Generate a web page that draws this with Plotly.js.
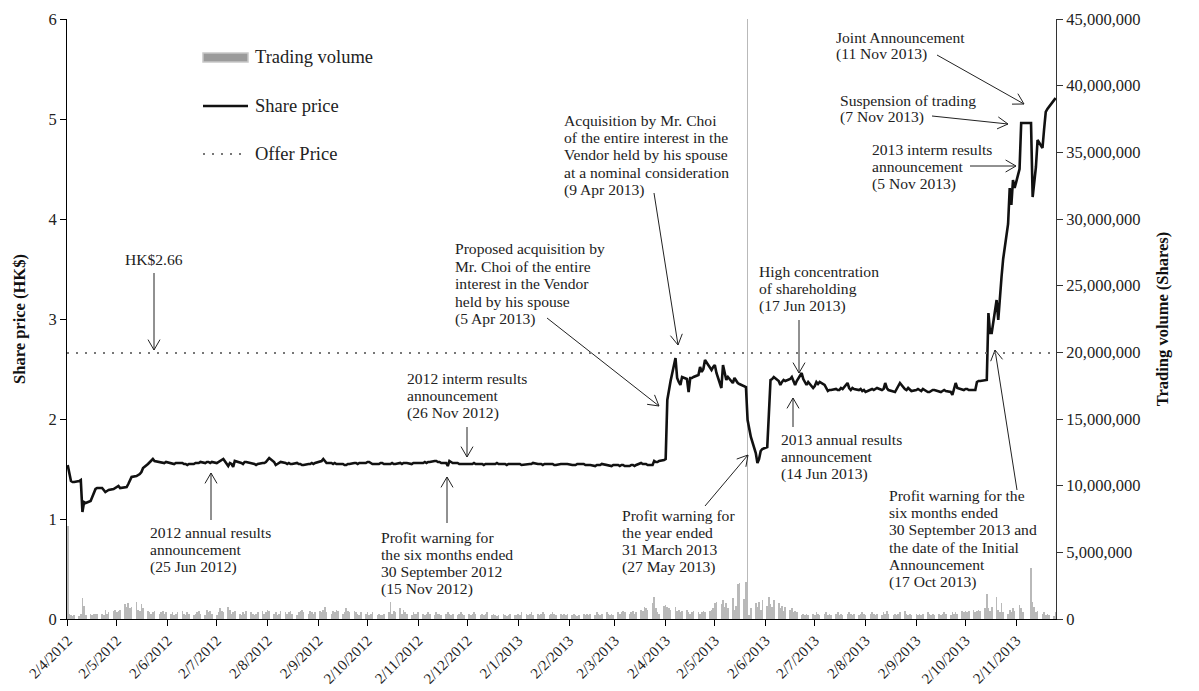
<!DOCTYPE html>
<html><head><meta charset="utf-8">
<script src="https://cdn.plot.ly/plotly-3.0.1.min.js"></script>
<style>html,body{margin:0;padding:0;background:#fff}#chart{width:1199px;height:691px}</style>
</head><body><div id="chart"></div>
<script>
// ---------------- DATA ----------------
// first trading day of the series; one value per weekday from here on
const startDate = '2012-04-02';

// Closing share price (HK$), one per trading day, grouped by month
const sharePrice = [
  // Apr 2012
  1.54,1.45,1.38,1.37,1.37,1.38,1.39,1.07,1.17,1.16,1.18,1.22,1.27,1.30,1.31,1.31,1.29,1.27,1.28,1.29,1.30,
  // May 2012
  1.31,1.32,1.33,1.31,1.32,1.32,1.35,1.39,1.42,1.43,1.44,1.45,1.47,1.51,1.55,1.57,1.59,1.60,1.58,1.57,1.57,1.56,1.56,
  // Jun 2012
  1.57,1.56,1.56,1.55,1.56,1.56,1.56,1.55,1.55,1.54,1.55,1.55,1.56,1.56,1.56,1.57,1.56,1.57,1.57,1.56,1.57,
  // Jul 2012
  1.56,1.57,1.58,1.59,1.60,1.53,1.56,1.55,1.52,1.58,1.57,1.56,1.55,1.57,1.57,1.56,1.55,1.55,1.54,1.55,1.56,1.56,
  // Aug 2012
  1.57,1.59,1.61,1.57,1.54,1.55,1.56,1.57,1.56,1.55,1.56,1.55,1.55,1.56,1.55,1.55,1.54,1.54,1.55,1.55,1.56,1.55,1.56,
  // Sep 2012
  1.57,1.58,1.60,1.58,1.56,1.56,1.55,1.56,1.55,1.55,1.55,1.54,1.54,1.55,1.55,1.56,1.56,1.55,1.56,1.56,
  // Oct 2012
  1.56,1.57,1.57,1.56,1.55,1.55,1.55,1.56,1.56,1.55,1.55,1.55,1.56,1.55,1.55,1.56,1.55,1.56,1.56,1.56,1.55,1.56,1.56,
  // Nov 2012
  1.56,1.56,1.56,1.57,1.56,1.57,1.57,1.58,1.58,1.57,1.57,1.56,1.56,1.53,1.58,1.57,1.56,1.56,1.55,1.55,1.55,1.55,
  // Dec 2012
  1.55,1.55,1.55,1.56,1.55,1.55,1.55,1.54,1.55,1.55,1.55,1.55,1.55,1.56,1.55,1.55,1.55,1.54,1.55,1.55,1.55,
  // Jan 2013
  1.55,1.55,1.55,1.54,1.55,1.55,1.55,1.55,1.56,1.55,1.55,1.55,1.54,1.55,1.55,1.55,1.55,1.54,1.54,1.55,1.55,1.55,1.55,
  // Feb 2013
  1.55,1.54,1.54,1.54,1.55,1.55,1.55,1.54,1.54,1.54,1.54,1.53,1.54,1.54,1.54,1.55,1.54,1.54,1.54,1.53,
  // Mar 2013
  1.54,1.54,1.53,1.54,1.54,1.53,1.53,1.54,1.54,1.53,1.54,1.56,1.55,1.55,1.55,1.54,1.54,1.58,1.57,1.57,1.58,
  // Apr 2013
  1.59,1.60,2.19,2.30,2.38,2.61,2.41,2.37,2.34,2.42,2.40,2.27,2.41,2.41,2.42,2.44,2.52,2.47,2.50,2.59,2.51,2.49,
  // May 2013
  2.52,2.54,2.46,2.31,2.54,2.45,2.39,2.42,2.36,2.41,2.38,2.36,2.35,2.33,2.32,1.99,1.88,1.82,1.66,1.56,1.60,1.68,1.70,
  // Jun 2013
  1.72,2.05,2.39,2.40,2.42,2.38,2.34,2.37,2.39,2.38,2.40,2.42,2.37,2.34,2.38,2.46,2.40,2.37,2.34,2.37,
  // Jul 2013
  2.31,2.33,2.37,2.35,2.37,2.34,2.31,2.28,2.29,2.29,2.30,2.29,2.29,2.31,2.30,2.36,2.31,2.29,2.31,2.30,2.29,2.30,2.28,
  // Aug 2013
  2.29,2.27,2.29,2.30,2.29,2.30,2.31,2.29,2.30,2.36,2.31,2.29,2.28,2.27,2.30,2.33,2.36,2.30,2.29,2.31,2.29,2.28,
  // Sep 2013
  2.29,2.30,2.29,2.28,2.30,2.27,2.27,2.28,2.29,2.29,2.28,2.27,2.28,2.29,2.28,2.27,2.24,2.30,2.36,2.31,2.29,
  // Oct 2013
  2.29,2.30,2.30,2.29,2.29,2.29,2.37,2.38,2.38,2.39,2.39,3.06,2.86,2.86,3.19,2.99,3.25,3.42,3.60,3.95,4.31,4.14,4.39,
  // Nov 2013
  4.31,4.50,4.96,4.96,4.96,4.96,4.96,4.22,4.40,4.52,4.79,4.71,4.90,5.07,5.10,5.12,5.19,5.21
];

// Daily trading volume, in millions of shares, same trading days
const volumeMillions = [
  // Apr 2012
  7.0,0.4,0.3,0.2,0.3,0.2,0.4,1.6,1.0,0.3,0.35,0.3,0.4,0.35,0.4,0.4,0.3,0.7,0.4,0.5,0.6,
  // May 2012
  0.7,0.5,0.6,0.7,1.1,0.9,1.2,0.8,0.9,1.3,0.7,0.6,1.1,0.8,0.6,0.5,0.4,0.5,0.6,0.4,0.5,0.6,0.4,
  // Jun 2012
  0.5,0.4,0.5,0.3,0.4,0.5,0.6,0.4,0.3,0.5,0.4,0.3,0.4,0.5,0.6,0.4,0.3,0.7,0.5,0.6,0.4,
  // Jul 2012
  0.3,0.5,0.8,0.6,0.5,0.9,0.7,0.4,0.5,0.6,0.4,0.3,0.5,0.4,0.6,0.5,0.4,0.3,0.4,0.5,0.6,0.4,
  // Aug 2012
  0.5,0.7,0.6,0.4,0.5,0.3,0.4,0.6,0.5,0.4,0.5,0.6,0.4,0.3,0.5,0.6,0.7,0.5,0.4,0.6,0.5,0.4,0.5,
  // Sep 2012
  0.6,0.5,0.7,0.9,0.5,0.4,0.6,0.5,0.7,0.6,0.4,0.5,0.8,0.6,0.5,0.6,0.5,0.4,0.3,0.5,
  // Oct 2012
  0.4,0.5,0.3,0.4,0.5,0.3,0.4,0.3,0.3,0.4,0.5,1.25,0.4,0.6,0.5,0.8,0.4,0.7,0.5,0.4,0.3,0.5,0.4,
  // Nov 2012
  0.4,0.5,0.4,0.3,0.4,0.5,0.4,0.3,0.5,0.4,0.4,0.3,0.4,0.5,0.4,0.3,0.4,0.3,0.4,0.5,0.4,0.3,
  // Dec 2012
  0.4,0.3,0.4,0.5,0.4,0.3,0.4,0.3,0.4,0.5,0.3,0.4,0.3,0.2,0.3,0.4,0.3,0.2,0.3,0.4,0.3,
  // Jan 2013
  0.3,0.4,0.3,0.5,0.4,0.3,0.4,0.5,0.3,0.4,0.3,0.4,0.5,0.4,0.3,0.4,0.5,0.4,0.3,0.4,0.3,0.4,0.3,
  // Feb 2013
  0.4,0.3,0.4,0.3,0.2,0.3,0.4,0.3,0.4,0.3,0.4,0.3,0.5,0.4,0.3,0.4,0.5,0.4,0.3,0.4,
  // Mar 2013
  0.3,0.5,0.4,0.5,0.6,0.5,0.4,0.5,0.6,0.4,0.5,0.7,0.6,0.9,0.8,0.7,1.2,1.67,0.8,0.5,0.4,
  // Apr 2013
  1.0,1.05,0.9,0.8,0.7,0.9,0.6,0.7,0.5,0.6,0.7,0.5,0.4,0.5,0.6,0.5,0.4,0.5,0.6,0.5,0.6,0.7,
  // May 2013
  0.8,1.2,1.3,1.1,1.4,0.9,1.2,0.8,1.6,0.7,1.0,2.6,2.7,1.5,2.8,52,0.3,0.8,1.2,0.9,1.3,0.7,1.4,
  // Jun 2013
  1.0,1.67,1.1,0.9,1.4,1.2,0.8,1.0,0.6,0.9,0.7,0.8,0.5,0.6,0.5,0.3,0.4,0.3,0.4,0.3,
  // Jul 2013
  0.4,0.3,0.5,0.4,0.3,0.4,0.5,0.3,0.4,0.3,0.4,0.5,0.3,0.4,0.3,0.4,0.5,0.4,0.3,0.4,0.3,0.4,0.5,
  // Aug 2013
  0.4,0.3,0.4,0.5,0.4,0.3,0.4,0.3,0.5,0.4,0.6,0.4,0.3,0.4,0.3,0.4,0.5,0.6,0.4,0.3,0.4,0.3,
  // Sep 2013
  0.4,0.3,0.4,0.3,0.4,0.5,0.4,0.3,0.4,0.3,0.4,0.3,0.4,0.5,0.4,0.3,0.5,0.4,0.5,0.4,0.6,
  // Oct 2013
  0.5,0.6,0.5,0.6,0.7,0.5,0.6,0.7,0.6,0.8,1.9,0.8,0.6,0.9,1.67,0.7,0.5,1.2,0.5,0.4,0.7,0.5,0.8,
  // Nov 2013
  0.6,1.05,0.8,0.5,0,0,3.8,1.3,0.9,0.5,0.6,0.4,0.5,0.3,0.4,0.3,0.2,0.5
];

const offerPrice = 2.66;
const offerLabel = 'HK$2.66';
const xRange = ['2012-04-01 14:00', '2013-11-26 06:00'];
const priceRange = [0, 6];
const volumeRange = [0, 45000000];

// ---------------- BUILD ----------------
function tradingDays(start, n) {
  const out = [];
  const d = new Date(start + 'T00:00:00Z');
  while (out.length < n) {
    const wd = d.getUTCDay();
    if (wd !== 0 && wd !== 6) out.push(d.toISOString().slice(0, 10));
    d.setUTCDate(d.getUTCDate() + 1);
  }
  return out;
}
const dates = tradingDays(startDate, Math.max(sharePrice.length, volumeMillions.length));
const volume = volumeMillions.map(v => v * 1e6);

const FONT = 'Liberation Serif, "Times New Roman", Times, serif';
const M = {l: 67, r: 143, t: 19, b: 72};
const PW = 1199 - M.l - M.r, PH = 691 - M.t - M.b;
const px = x => (x - M.l) / PW;
const py = y => (M.t + PH - y) / PH;

// text notes: left position, first-line centre (reference pixels)
const notes = [
  {lines: [offerLabel], x: 154, y: 259, anchor: 'center'},
  {lines: ['2012 annual results', 'announcement', '(25 Jun 2012)'], x: 148, y: 532},
  {lines: ['Profit warning for', 'the six months ended', '30 September 2012', '(15 Nov 2012)'], x: 379, y: 537},
  {lines: ['2012 interm results', 'announcement', '(26 Nov 2012)'], x: 405, y: 378},
  {lines: ['Proposed acquisition by', 'Mr. Choi of the entire', 'interest in the Vendor', 'held by his spouse', '(5 Apr 2013)'], x: 453, y: 249},
  {lines: ['Acquisition by Mr. Choi', 'of the entire interest in the', 'Vendor held by his spouse', 'at a nominal consideration', '(9 Apr 2013)'], x: 562, y: 120},
  {lines: ['Profit warning for', 'the year ended', '31 March 2013', '(27 May 2013)'], x: 620, y: 515},
  {lines: ['High concentration', 'of shareholding', '(17 Jun 2013)'], x: 757, y: 271},
  {lines: ['2013 annual results', 'announcement', '(14 Jun 2013)'], x: 779, y: 439},
  {lines: ['Joint Announcement', '(11 Nov 2013)'], x: 834, y: 37},
  {lines: ['Suspension of trading', '(7 Nov 2013)'], x: 838, y: 100},
  {lines: ['2013 interm results', 'announcement', '(5 Nov 2013)'], x: 870, y: 149},
  {lines: ['Profit warning for the', 'six months ended', '30 September 2013 and', 'the date of the Initial', 'Announcement', '(17 Oct 2013)'], x: 887, y: 495}
];
// arrows: tail -> tip (reference pixels)
const arrows = [
  [[154, 273], [154, 350]],
  [[211, 520], [211, 473]],
  [[447, 523], [447, 477]],
  [[467, 427], [467, 457]],
  [[547, 318], [659, 406]],
  [[654, 193], [678, 345]],
  [[705, 506], [748, 455]],
  [[799, 320], [799, 373]],
  [[793, 427], [793, 398]],
  [[937, 55], [1024, 104]],
  [[932, 116], [1008, 124]],
  [[970, 166], [1016, 166]],
  [[1017, 490], [995, 350]]
];

const annotations = [];
const LINE = 17.4;
notes.forEach(n => {
  n.lines.forEach((t, i) => {
    annotations.push({
      xref: 'paper', yref: 'paper', x: px(n.x), y: py(n.y + i * LINE),
      text: t, showarrow: false, xanchor: n.anchor || 'left', yanchor: 'middle',
      font: {family: FONT, size: 15.6, color: '#222'}
    });
  });
});

const shapes = [];
arrows.forEach(([tail, tip]) => {
  const [x0, y0] = tail, [x1, y1] = tip;
  const ang = Math.atan2(y1 - y0, x1 - x0);
  const L = 12, a = 30 * Math.PI / 180;
  const w1 = [x1 - L * Math.cos(ang - a), y1 - L * Math.sin(ang - a)];
  const w2 = [x1 - L * Math.cos(ang + a), y1 - L * Math.sin(ang + a)];
  shapes.push({type: 'line', xref: 'paper', yref: 'paper', x0: px(x0), y0: py(y0), x1: px(x1), y1: py(y1),
    line: {color: '#222', width: 1}});
  shapes.push({type: 'path', xref: 'paper', yref: 'paper', fillcolor: 'rgba(0,0,0,0)',
    path: `M${px(w1[0])},${py(w1[1])} L${px(x1)},${py(y1)} L${px(w2[0])},${py(w2[1])}`,
    line: {color: '#222', width: 1}});
});

// offer price dotted line
shapes.push({type: 'line', xref: 'paper', yref: 'y2', x0: 0, x1: 1, y0: offerPrice, y1: offerPrice,
  line: {color: '#777', width: 2, dash: '2px,7px'}});

// legend (drawn)
shapes.push({type: 'rect', xref: 'paper', yref: 'paper', x0: px(203), x1: px(248), y0: py(62), y1: py(53),
  fillcolor: '#9b9b9b', line: {color: '#c8c8c8', width: 1.5}});
shapes.push({type: 'line', xref: 'paper', yref: 'paper', x0: px(203), x1: px(248), y0: py(106), y1: py(106),
  line: {color: '#111', width: 2.6}});
shapes.push({type: 'line', xref: 'paper', yref: 'paper', x0: px(203), x1: px(248), y0: py(154), y1: py(154),
  line: {color: '#777', width: 2, dash: '2px,7px'}});
[['Trading volume', 57], ['Share price', 106], ['Offer Price', 154]].forEach(([t, y]) => {
  annotations.push({xref: 'paper', yref: 'paper', x: px(253), y: py(y), text: t, showarrow: false,
    xanchor: 'left', yanchor: 'middle', font: {family: FONT, size: 18.5, color: '#222'}});
});

const traces = [
  {type: 'bar', x: dates, y: volume, yaxis: 'y', xaxis: 'x', name: 'Trading volume',
   marker: {color: '#b9b9b9', line: {width: 0}}, hoverinfo: 'skip'},
  {type: 'scatter', mode: 'lines', x: dates, y: sharePrice, yaxis: 'y2', xaxis: 'x', name: 'Share price',
   line: {color: '#111', width: 2.6}, hoverinfo: 'skip'}
];

const tickFont = {family: FONT, size: 16.5, color: '#222'};
const layout = {
  width: 1199, height: 691,
  margin: M,
  paper_bgcolor: '#fff', plot_bgcolor: '#fff',
  showlegend: false,
  bargap: 0,
  hovermode: false,
  font: {family: FONT, color: '#222'},
  xaxis: {
    type: 'date', range: xRange, tick0: '2012-04-02', dtick: 'M1', tickformat: '%-d/%-m/%Y',
    tickangle: -45, ticks: 'outside', ticklen: 6, tickcolor: '#000', showline: true, linecolor: '#000',
    linewidth: 1, showgrid: false, zeroline: false, automargin: false,
    tickfont: {family: FONT, size: 15, color: '#222'}
  },
  yaxis: {
    side: 'right', range: volumeRange, dtick: 5000000, tickformat: ',d', ticks: 'outside', ticklen: 6,
    tickcolor: '#333', showline: true, linecolor: '#333', linewidth: 1, showgrid: false, zeroline: false,
    automargin: false, tickfont: tickFont,
    title: {text: '<b>Trading volume (Shares)</b>', font: {family: FONT, size: 16.5, color: '#111'}, standoff: 16}
  },
  yaxis2: {
    overlaying: 'y', side: 'left', range: priceRange, dtick: 1, ticks: 'outside', ticklen: 6,
    tickcolor: '#000', showline: true, linecolor: '#000', linewidth: 1, showgrid: false, zeroline: false,
    automargin: false, tickfont: tickFont,
    title: {text: '<b>Share price (HK$)</b>', font: {family: FONT, size: 16.5, color: '#111'}, standoff: 18}
  },
  shapes: shapes,
  annotations: annotations
};

Plotly.newPlot('chart', traces, layout, {staticPlot: true, displayModeBar: false});
</script>
</body></html>
